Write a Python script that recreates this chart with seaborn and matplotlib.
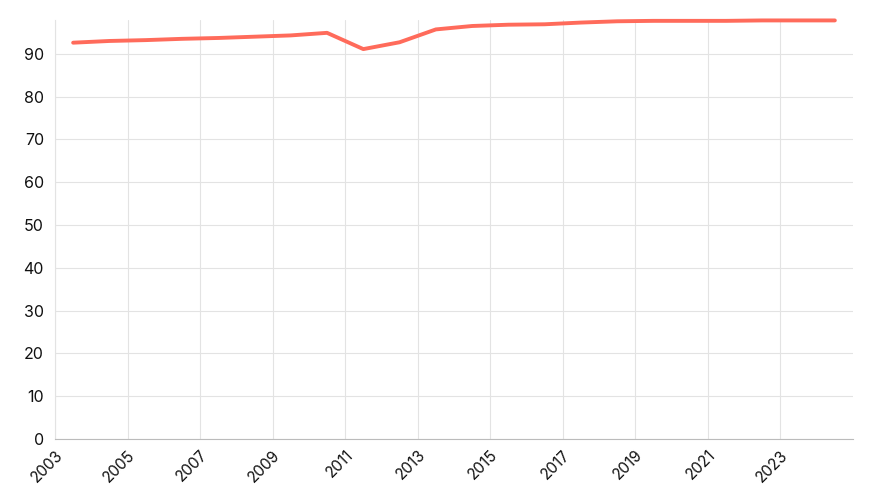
import numpy as np
import pandas as pd
import seaborn as sns
import matplotlib.pyplot as plt

# data (mid-year points)
years = list(range(2003, 2025))
values = [92.6, 93.0, 93.2, 93.5, 93.7, 94.0, 94.3, 94.9,
          91.1, 92.7, 95.7, 96.5, 96.8, 96.9, 97.3, 97.6,
          97.7, 97.7, 97.7, 97.8, 97.8, 97.8]
tick_years = list(range(2003, 2025, 2))
y_ticks = list(range(0, 100, 10))

sns.set_theme(style='white')
plt.rcParams['font.family'] = ['Inter', 'DejaVu Sans']

df = pd.DataFrame({'year': np.array(years) + 0.5, 'value': values})

fig = plt.figure(figsize=(8.73, 5), dpi=100)
ax = fig.add_axes([55 / 873, 61 / 500, 798 / 873, 419 / 500])

sns.lineplot(data=df, x='year', y='value', color='#ff6b5b', linewidth=2.8,
             ax=ax, clip_on=False, zorder=3)

ax.set_xlim(2003, 2025)
ax.set_ylim(0, 97.9)
ax.set_xticks(tick_years)
ax.set_xticklabels([str(y) for y in tick_years], rotation=45, ha='right',
                   rotation_mode='anchor', fontsize=11)
ax.set_yticks(y_ticks)
ax.set_yticklabels([str(v) for v in y_ticks], fontsize=11.5)
ax.tick_params(axis='x', length=0, pad=6, colors='#111111')
ax.tick_params(axis='y', length=0, pad=8, colors='#111111')
ax.grid(True, color='#e3e3e3', linewidth=0.8)
ax.set_axisbelow(True)
ax.set_xlabel('')
ax.set_ylabel('')

for side in ['top', 'right']:
    ax.spines[side].set_visible(False)
ax.spines['left'].set_color('#e3e3e3')
ax.spines['left'].set_linewidth(0.8)
ax.spines['bottom'].set_color('#bbbbbb')
ax.spines['bottom'].set_linewidth(0.8)

fig.savefig('out.png', dpi=100)
